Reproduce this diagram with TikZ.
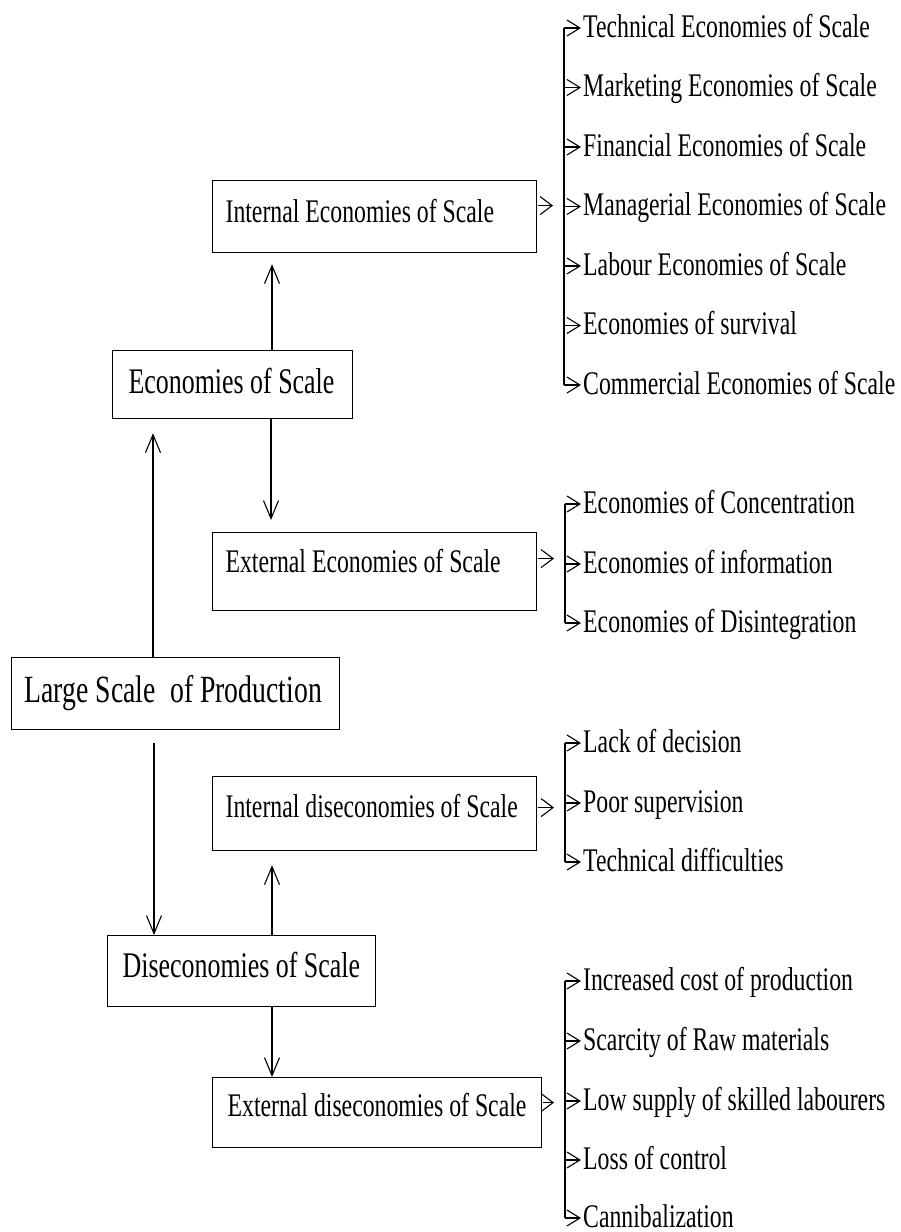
\documentclass[tikz,border=0pt]{standalone}
\usepackage{fontspec}
\setmainfont{Liberation Serif}[FakeStretch=0.72]
\usetikzlibrary{arrows.meta,calc}
\begin{document}
\begin{tikzpicture}[x=1pt,y=-1pt,
  box/.style={draw, line width=1.2pt, anchor=north west, inner ysep=0pt},
  subtxt/.style={font=\fontsize{33}{36}\selectfont},
  item/.style={anchor=base west, inner sep=0pt, text height=20pt, text depth=2pt, font=\fontsize{33}{36}\selectfont},
  varr/.style={line width=1.1pt, -{Straight Barb[length=18pt,width=15pt]}},
  sarr/.style={line width=1.1pt, -{Straight Barb[length=12pt,width=18pt]}},
  iarr/.style={line width=1.1pt, -{Straight Barb[length=13pt,width=16pt]}},
  brack/.style={line width=1.1pt}]
\useasboundingbox (0,0) rectangle (901,1232);

% boxes
\node[box, subtxt, inner xsep=13pt, text height=42pt, text depth=30pt] (ie) at (212,180) {\makebox[298pt][l]{Internal Economies of Scale}};
\node[box, subtxt, inner xsep=13pt, text height=40pt, text depth=38pt] (ee) at (212,532) {\makebox[298pt][l]{External Economies of Scale}};
\node[box, subtxt, inner xsep=13pt, text height=41pt, text depth=33pt] (id) at (212,776) {\makebox[298pt][l]{Internal diseconomies of Scale}};
\node[box, subtxt, inner xsep=15pt, text height=39pt, text depth=31pt] (ed) at (212,1077) {\makebox[299pt][l]{External diseconomies of Scale}};
\node[box, font=\fontsize{36}{40}\selectfont, inner xsep=16pt, text height=43pt, text depth=25pt] (eos) at (112,350) {\makebox[208pt][l]{Economies of Scale}};
\node[box, font=\fontsize{36}{40}\selectfont, inner xsep=15pt, text height=42pt, text depth=29pt] (dos) at (107,935) {\makebox[238pt][l]{Diseconomies of Scale}};
\node[box, font=\fontsize{38.5}{42}\selectfont, inner xsep=13pt, text height=45pt, text depth=27pt] (lsp) at (11,657) {\makebox[302pt][l]{Large Scale\hspace{0.2em} of Production}};

% vertical arrows
\draw[varr] ([xshift=142pt]lsp.north west) -- ([xshift=41pt,yshift=-14pt]eos.south west);
\draw[varr] ([xshift=143pt,yshift=-13pt]lsp.south west) -- ([xshift=47pt]dos.north west);
\draw[varr] ([xshift=160pt]eos.north west) -- ([xshift=60pt,yshift=-11pt]ie.south west);
\draw[varr] ([xshift=159pt]eos.south west) -- ([xshift=59pt,yshift=12pt]ee.north west);
\draw[varr] ([xshift=165pt]dos.north west) -- ([xshift=60pt,yshift=-14pt]id.south west);
\draw[varr] ([xshift=165pt]dos.south west) -- ([xshift=60pt]ed.north west);

% bracket x positions
\coordinate (bx1) at (564,0);
\coordinate (bx2) at (565,0);
\coordinate (bx3) at (565,0);
\coordinate (bx4) at (565,0);

% list 1
\node[item] (a1) at (583,37) {Technical Economies of Scale};
\node[item] (a2) at (583,96.5) {Marketing Economies of Scale};
\node[item] (a3) at (583,156) {Financial Economies of Scale};
\node[item] (a4) at (583,215.5) {Managerial Economies of Scale};
\node[item] (a5) at (583,275) {Labour Economies of Scale};
\node[item] (a6) at (583,334.5) {Economies of survival};
\node[item] (a7) at (583,394) {Commercial Economies of Scale};
\draw[brack] (a1.west -| bx1) -- (a7.west -| bx1);
\foreach \n in {a1,a2,a3,a4,a5,a6,a7} \draw[iarr] (\n.west -| bx1) -- ([xshift=-2pt]\n.west);
\draw[sarr] ($(ie.east)+(1,-11)$) -- ($(ie.east -| bx1)+(-11,-11)$);

% list 2
\node[item] (b1) at (583,513) {Economies of Concentration};
\node[item] (b2) at (583,573) {Economies of information};
\node[item] (b3) at (583,632) {Economies of Disintegration};
\draw[brack] (b1.west -| bx2) -- (b3.west -| bx2);
\foreach \n in {b1,b2,b3} \draw[iarr] (\n.west -| bx2) -- ([xshift=-2pt]\n.west);
\draw[sarr] ($(ee.east)+(1,-13)$) -- ($(ee.east -| bx2)+(-11,-13)$);

% list 3
\node[item] (c1) at (583,752) {Lack of decision};
\node[item] (c2) at (583,812) {Poor supervision};
\node[item] (c3) at (583,871) {Technical difficulties};
\draw[brack] (c1.west -| bx3) -- (c3.west -| bx3);
\foreach \n in {c1,c2,c3} \draw[iarr] (\n.west -| bx3) -- ([xshift=-2pt]\n.west);
\draw[sarr] ($(id.east)+(1,-6)$) -- ($(id.east -| bx3)+(-11,-6)$);

% list 4
\node[item] (d1) at (583,990) {Increased cost of production};
\node[item] (d2) at (583,1050) {Scarcity of Raw materials};
\node[item] (d3) at (583,1110) {Low supply of skilled labourers};
\node[item] (d4) at (583,1169) {Loss of control};
\node[item] (d5) at (583,1227) {Cannibalization};
\draw[brack] (d1.west -| bx4) -- (d5.west -| bx4);
\foreach \n in {d1,d2,d3,d4,d5} \draw[iarr] (\n.west -| bx4) -- ([xshift=-2pt]\n.west);
\draw[sarr] ($(ed.east)+(1,-10)$) -- ($(ed.east -| bx4)+(-11,-10)$);
\end{tikzpicture}
\end{document}
